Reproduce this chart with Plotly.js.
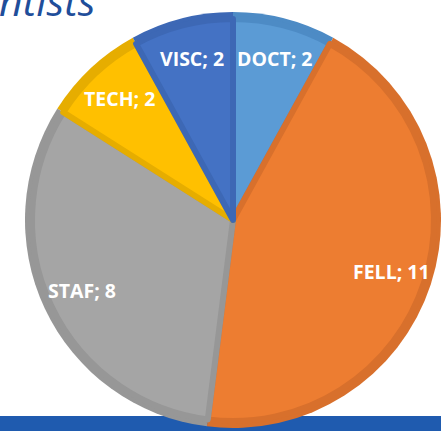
<!DOCTYPE html>
<html>
<head>
<meta charset="utf-8">
<script src="https://cdn.plot.ly/plotly-3.0.1.min.js"></script>
<style>html,body{margin:0;padding:0;background:#fff;}#chart{width:441px;height:431px;}</style>
</head>
<body>
<div id="chart"></div>
<script>
// Data
const categories = ["DOCT", "FELL", "STAF", "TECH", "VISC"];
const counts = [2, 11, 8, 2, 2];
const titleText = "Scientists";

// Styles
const fillColors = ["#5B9BD5", "#ED7D31", "#A5A5A5", "#FFC000", "#4472C4"];
const edgeColors = ["#4D8BC5", "#D8702C", "#979797", "#E6AD00", "#3D68B5"];

const W = 441, H = 431;
const CX = 233, CY = 220, R_OUT = 208, R_IN = 201;

function dom(r) {
  return {
    x: [Math.max(0, (CX - r) / W), Math.min(1, (CX + r) / W)],
    y: [Math.max(0, 1 - (CY + r) / H), Math.min(1, 1 - (CY - r) / H)]
  };
}

const common = {
  type: "pie",
  labels: categories,
  values: counts,
  sort: false,
  direction: "clockwise",
  rotation: 0,
  textinfo: "none",
  hoverinfo: "skip",
  showlegend: false
};

// outer darker rim
const rimTrace = Object.assign({}, common, {
  domain: dom(R_OUT),
  marker: {colors: edgeColors, line: {width: 0}}
});
// inner fill
const fillTrace = Object.assign({}, common, {
  domain: dom(R_IN),
  marker: {colors: fillColors, line: {color: edgeColors, width: 6}}
});

// Label annotations placed on slice bisectors
const total = counts.reduce((a, b) => a + b, 0);
const rLab = 0.8 * R_OUT;
let cum = 0;
const annotations = categories.map((c, i) => {
  const mid = (cum + counts[i] / 2) / total * 2 * Math.PI;
  cum += counts[i];
  const px = CX + rLab * Math.sin(mid);
  const py = CY - rLab * Math.cos(mid);
  return {
    xref: "paper", yref: "paper",
    x: px / W, y: 1 - py / H,
    xanchor: "center", yanchor: "middle",
    text: c + "; " + counts[i],
    showarrow: false,
    font: {family: "Open Sans", size: 19.5, weight: 700, color: "#FFFFFF"}
  };
});

annotations.push({
  xref: "paper", yref: "paper",
  x: 97 / W, y: 1 - 30 / H,
  xanchor: "right", yanchor: "bottom",
  text: titleText,
  showarrow: false,
  font: {family: "Open Sans", size: 41, style: "italic", color: "#1F4E9A"}
});

const layout = {
  width: W, height: H,
  margin: {l: 0, r: 0, t: 0, b: 0},
  paper_bgcolor: "#FFFFFF",
  showlegend: false,
  hovermode: false,
  shapes: [{
    type: "rect", xref: "paper", yref: "paper",
    x0: 0, x1: 1, y0: 0, y1: 1 - 416 / H,
    fillcolor: "#1F5BAF", line: {width: 0}, layer: "below"
  }],
  annotations: annotations
};

Plotly.newPlot("chart", [rimTrace, fillTrace], layout, {displayModeBar: false, staticPlot: true});
</script>
</body>
</html>
